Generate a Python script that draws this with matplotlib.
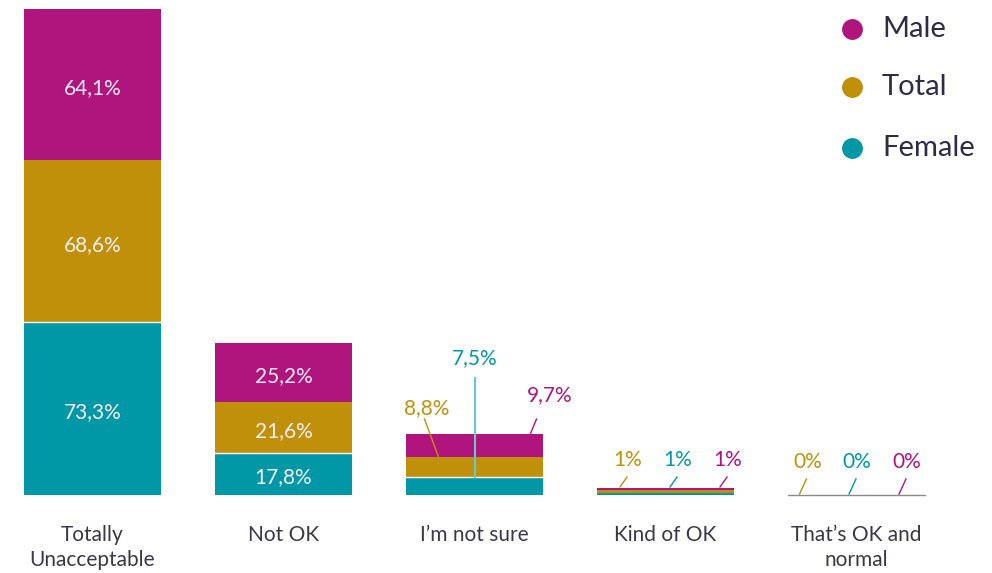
import matplotlib
matplotlib.use("Agg")
import matplotlib.pyplot as plt
from matplotlib.lines import Line2D

plt.rcParams['font.family'] = ['Lato', 'DejaVu Sans']

categories = ["Totally\nUnacceptable", "Not OK", "I\u2019m not sure", "Kind of OK", "That\u2019s OK and\nnormal"]
female = [73.3, 17.8, 7.5, 1, 0]
total = [68.6, 21.6, 8.8, 1, 0]
male = [64.1, 25.2, 9.7, 1, 0]
series_names = ["Male", "Total", "Female"]

C_MALE = "#B0157E"
C_TOTAL = "#C0900A"
C_FEMALE = "#0098A6"
TEXT = "#2E2B47"
FW = "normal"

W, H = 992, 573
fig = plt.figure(figsize=(W / 100, H / 100), dpi=100)
ax = fig.add_axes([0, 0, 1, 1])

# pixel geometry -> data scale
step_px = 191.0
x0_px = 92.5
base_px = 495.0        # baseline, from top
ppu = 2.36             # pixels per percent
ax.set_xlim((0 - x0_px) / step_px, (W - x0_px) / step_px)
ax.set_ylim(-(H - base_px) / ppu, base_px / ppu)
ax.axis("off")

def fmt(v):
    return (f"{v:.1f}".replace(".", ",") if v >= 2 else f"{v:g}") + "%"

xs = list(range(len(categories)))
bw = 0.717
bot_total = female
bot_male = [f + t for f, t in zip(female, total)]
ax.bar(xs, female, bw, color=C_FEMALE, linewidth=0)
ax.bar(xs, total, bw, bottom=bot_total, color=C_TOTAL, linewidth=0)
ax.bar(xs, male, bw, bottom=bot_male, color=C_MALE, linewidth=0)

# thin white seam between segments
for i in xs:
    if female[i] >= 5:
        ax.plot([i - bw / 2, i + bw / 2], [female[i]] * 2, color="white", lw=1.0)

# zero-height bars get a grey baseline
for i in xs:
    if female[i] + total[i] + male[i] == 0:
        ax.plot([i - bw / 2, i + bw / 2], [0, 0], color="#8a8a8a", lw=1.0)

# labels inside large segments
for i in xs:
    segs = [(female[i], 0, ), (total[i], bot_total[i]), (male[i], bot_male[i])]
    if female[i] >= 15:
        for v, b in segs:
            ax.text(i, b + v / 2 - 1.5, fmt(v), ha="center", va="center",
                    color="#F6EEF4", fontsize=15, fontweight=FW)

dx = 1 / step_px

# "I'm not sure" call-outs
i = 2
ax.text(i - 48 * dx, 37, fmt(total[i]), ha="center", va="center", color=C_TOTAL, fontsize=15, fontweight=FW)
ax.plot([i - 50 * dx, i - 35 * dx], [32.2, bot_total[i] + total[i] / 2 + 3], color=C_TOTAL, lw=1)
ax.text(i, 58, fmt(female[i]), ha="center", va="center", color=C_FEMALE, fontsize=15, fontweight=FW)
ax.plot([i, i], [49.6, female[i]], color="#6CC6D0", lw=1.5)
ax.text(i + 75 * dx, 42.4, fmt(male[i]), ha="center", va="center", color=C_MALE, fontsize=15, fontweight=FW)
ax.plot([i + 62 * dx, i + 56 * dx], [32.2, bot_male[i] + male[i]], color=C_MALE, lw=1)

# small-value call-outs
for i, offs in ((3, (-37.5, 12.5, 62.5)), (4, (-49, 0.5, 50.5))):
    top = female[i] + total[i] + male[i]
    ly = 14.8 if i == 3 else 14.0
    for (val, col), o in zip(((total[i], C_TOTAL), (female[i], C_FEMALE), (male[i], C_MALE)), offs):
        ax.text(i + o * dx, ly, fmt(val), ha="center", va="center", color=col, fontsize=15, fontweight=FW)
        ax.plot([i + (o - 1) * dx, i + (o - 8) * dx], [ly - 7.2, top + 0.4], color=col, lw=1)

# category labels
for i, c in zip(xs, categories):
    ax.text(i, -(525 - base_px) / ppu, c, ha="center", va="top", color="#3A3848",
            fontsize=15, linespacing=1.3, fontweight=FW)

# legend
for name, col, ypx in zip(series_names, (C_MALE, C_TOTAL, C_FEMALE), (29, 87, 148)):
    fig.add_artist(Line2D([852 / W], [1 - ypx / H], marker="o", markersize=14,
                          color=col, linestyle="none", transform=fig.transFigure))
    fig.text(882 / W, 1 - ypx / H, name, ha="left", va="center", color=TEXT,
             fontsize=21, fontweight=FW)

fig.savefig("out.png", dpi=100, facecolor="white")
